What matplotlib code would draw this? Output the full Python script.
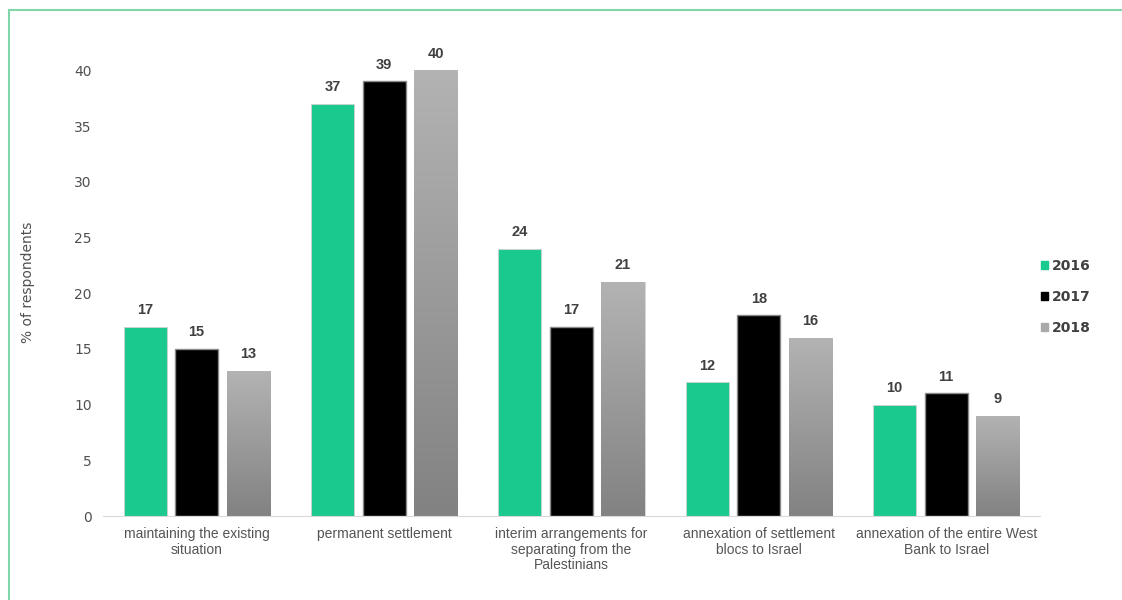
import numpy as np
import matplotlib.pyplot as plt
from matplotlib.lines import Line2D
from matplotlib.colors import LinearSegmentedColormap

categories = ['maintaining the existing\nsituation',
              'permanent settlement',
              'interim arrangements for\nseparating from the\nPalestinians',
              'annexation of settlement\nblocs to Israel',
              'annexation of the entire West\nBank to Israel']
years = ['2016', '2017', '2018']
v2016 = [17, 37, 24, 12, 10]
v2017 = [15, 39, 17, 18, 11]
v2018 = [13, 40, 21, 16, 9]
yticks = [0, 5, 10, 15, 20, 25, 30, 35, 40]

green = '#1ac98e'
black = '#000000'
grey = '#a9a9a9'
txt = '#404040'

fig = plt.figure(figsize=(11.22, 6), dpi=100)
ax = fig.add_axes([0.0918, 0.14, 0.835, 0.78])

x = np.arange(len(categories))
step = 0.275
w = 0.23

b1 = ax.bar(x - step, v2016, w, color=green, edgecolor='#d0d0d0', linewidth=0.6, label=years[0])
b2 = ax.bar(x, v2017, w, color=black, edgecolor='#8a8a8a', linewidth=1.0, label=years[1])
b3 = ax.bar(x + step, v2018, w, color=grey, edgecolor='#d0d0d0', linewidth=0.6, label=years[2])

# grey bars get a light-to-dark vertical gradient
cmap = LinearSegmentedColormap.from_list('g', ['#828282', '#b3b3b3'])
grad = np.linspace(0, 1, 256).reshape(-1, 1)
for bar in b3:
    x0, y0 = bar.get_x(), bar.get_y()
    bw, bh = bar.get_width(), bar.get_height()
    im = ax.imshow(grad, cmap=cmap, origin='lower', aspect='auto',
                   extent=[x0, x0 + bw, y0, y0 + bh], zorder=bar.get_zorder())
    im.set_clip_path(bar)
    bar.set_facecolor('none')

for bars, vals in [(b1, v2016), (b2, v2017), (b3, v2018)]:
    for bar, v in zip(bars, vals):
        ax.annotate(str(v), (bar.get_x() + bar.get_width() / 2, v),
                    xytext=(0, 7), textcoords='offset points',
                    ha='center', va='bottom', fontsize=10.5, fontweight='bold',
                    color=txt, family='Liberation Sans')

ax.set_xlim(-0.5, 4.5)
ax.set_ylim(0, 42)
ax.set_yticks(yticks)
ax.set_xticks(x)
ax.set_xticklabels(categories, fontsize=10, color='#555555', family='Liberation Sans',
                   linespacing=1.15)
ax.tick_params(axis='both', length=0)
ax.tick_params(axis='x', pad=8)
ax.tick_params(axis='y', labelsize=10, labelcolor='#505050', pad=8)
for s in ['top', 'right', 'left']:
    ax.spines[s].set_visible(False)
ax.spines['bottom'].set_color('#d9d9d9')
ax.set_ylabel('% of respondents', fontsize=10, color='#505050')
ax.yaxis.set_label_coords(-0.073, 0.5)

handles = [plt.Rectangle((0, 0), 1, 1, color=c) for c in [green, black, grey]]
leg = fig.legend(handles, years, loc='center left', bbox_to_anchor=(0.917, 0.505),
                 frameon=False, fontsize=10, handlelength=0.5, handleheight=0.5,
                 handletextpad=0.25, labelspacing=1.2)
for t in leg.get_texts():
    t.set_color('#404040')
    t.set_fontweight('bold')

# thin green frame along the top and left
fig.add_artist(Line2D([0.008, 1.0], [0.983, 0.983], color='#7fd6a8', lw=1.5))
fig.add_artist(Line2D([0.008, 0.008], [0.0, 0.983], color='#7fd6a8', lw=1.5))

fig.savefig('out.png', dpi=100)
